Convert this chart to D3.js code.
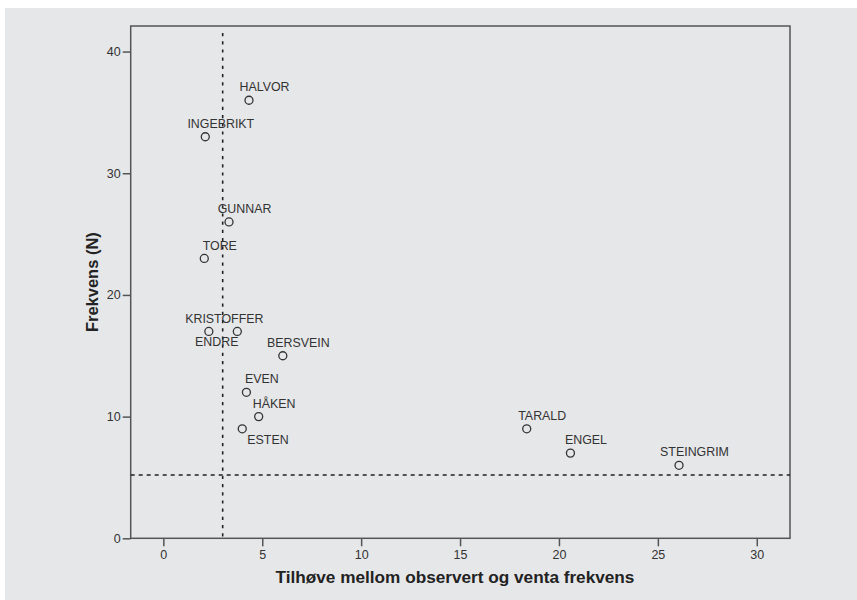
<!DOCTYPE html>
<html>
<head>
<meta charset="utf-8">
<script src="https://cdn.jsdelivr.net/npm/d3@7"></script>
<style>
  html, body { margin: 0; padding: 0; background: #ffffff; }
  svg { display: block; }
  text { font-family: "Liberation Sans", Arial, Helvetica, sans-serif; }
</style>
</head>
<body>
<svg id="chart" width="857" height="600"></svg>
<script>
// ---- data ----
const names = ["HALVOR", "INGEBRIKT", "GUNNAR", "TORE", "KRISTOFFER", "ENDRE",
               "BERSVEIN", "EVEN", "HÅKEN", "ESTEN", "TARALD", "ENGEL", "STEINGRIM"];
const ratio = [4.33, 2.12, 3.32, 2.07, 2.30, 3.74, 6.04, 4.20, 4.82, 3.99, 18.37, 20.58, 26.07];
const freq  = [36, 33, 26, 23, 17, 17, 15, 12, 10, 9, 9, 7, 6];
const xTicks = [0, 5, 10, 15, 20, 25, 30];
const yTicks = [0, 10, 20, 30, 40];
const refX = 3;
const refY = 5.2;
const xTitle = "Tilhøve mellom observert og venta frekvens";
const yTitle = "Frekvens (N)";

// ---- layout ----
const svg = d3.select("#chart");
const L = 130.7, R = 790, T = 26, B = 538.3;
const x = d3.scaleLinear().domain([-1.65, 31.68]).range([L, R]);
const y = d3.scaleLinear().domain([0, 42.1]).range([B, T]);
const ink = "#333333";
const frame = "#555555";

// background
svg.append("rect").attr("x", 5).attr("y", 8).attr("width", 852).attr("height", 592).attr("fill", "#e6e7e9");

// frame
svg.append("rect").attr("x", L).attr("y", T).attr("width", R - L).attr("height", B - T)
  .attr("fill", "none").attr("stroke", frame).attr("stroke-width", 1.5);

// axes
const xAxis = d3.axisBottom(x).tickValues(xTicks).tickSize(8).tickPadding(4).tickFormat(d3.format("d"));
const yAxis = d3.axisLeft(y).tickValues(yTicks).tickSize(8).tickPadding(2).tickFormat(d3.format("d"));
const gx = svg.append("g").attr("transform", `translate(0,${B})`).call(xAxis);
const gy = svg.append("g").attr("transform", `translate(${L},0)`).call(yAxis);
[gx, gy].forEach(g => {
  g.select(".domain").remove();
  g.selectAll(".tick line").attr("stroke", frame).attr("stroke-width", 1.5);
  g.selectAll(".tick text").attr("fill", ink).style("font-size", "12.5px")
    .style("font-family", "'Liberation Sans', Arial, sans-serif");
});

// reference lines
svg.append("line").attr("x1", x(refX)).attr("x2", x(refX)).attr("y1", T + 7).attr("y2", B)
  .attr("stroke", "#222").attr("stroke-width", 1.6).attr("stroke-dasharray", "3.2,5");
svg.append("line").attr("x1", L).attr("x2", R).attr("y1", y(refY)).attr("y2", y(refY))
  .attr("stroke", "#222").attr("stroke-width", 1.6).attr("stroke-dasharray", "4,4");

// points
const pts = names.map((n, i) => ({ name: n, x: ratio[i], y: freq[i] }));
svg.append("g").selectAll("circle").data(pts).join("circle")
  .attr("cx", d => x(d.x)).attr("cy", d => y(d.y)).attr("r", 4)
  .attr("fill", "none").attr("stroke", ink).attr("stroke-width", 1.3);

// labels
const labelPlacement = { "ESTEN": [25.7, 15.6], "ENDRE": [-20.6, 14.7] };
svg.append("g").selectAll("text").data(pts).join("text")
  .attr("x", d => x(d.x) + (labelPlacement[d.name] ? labelPlacement[d.name][0] : 15.5))
  .attr("y", d => y(d.y) + (labelPlacement[d.name] ? labelPlacement[d.name][1] : -8.8))
  .attr("text-anchor", "middle").attr("fill", ink).style("font-size", "12.4px")
  .text(d => d.name);

// titles
svg.append("text").attr("x", 455).attr("y", 583.3).attr("text-anchor", "middle")
  .attr("fill", "#222").style("font-size", "17.2px").style("font-weight", "bold").text(xTitle);
svg.append("text").attr("transform", `translate(98.3,${(T + B) / 2}) rotate(-90)`)
  .attr("text-anchor", "middle").attr("fill", "#222").style("font-size", "16.5px")
  .style("font-weight", "bold").text(yTitle);
</script>
</body>
</html>
